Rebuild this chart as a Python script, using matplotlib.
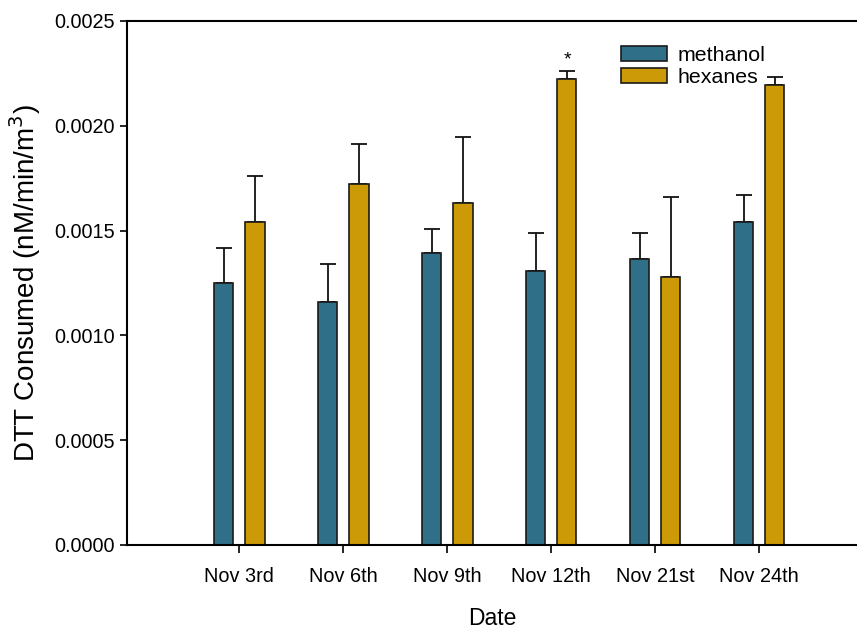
import matplotlib
matplotlib.use('Agg')
import matplotlib.pyplot as plt
import numpy as np

plt.rcParams['font.family'] = ['Liberation Sans', 'DejaVu Sans']

# DTT consumption per sampling date, methanol vs hexanes extracts
dates = ['Nov 3rd', 'Nov 6th', 'Nov 9th', 'Nov 12th', 'Nov 21st', 'Nov 24th']
methanol = [0.001251, 0.001159, 0.001395, 0.001307, 0.001364, 0.001541]
methanol_err = [0.000164, 0.000182, 0.000113, 0.000183, 0.000126, 0.000127]
hexanes = [0.001542, 0.001721, 0.001633, 0.002223, 0.001279, 0.002193]
hexanes_err = [0.000218, 0.000191, 0.000315, 0.000040, 0.000381, 0.000041]
star_idx = 3

c_meth = '#2f6f88'
c_hex = '#cc9a06'

fig = plt.figure(figsize=(8.57, 6.32), dpi=100)
ax = fig.add_axes([127/857, 1-545/632, 1-127/857, (545-21)/632])

x = np.arange(len(dates))
off = 0.151; w = 0.183

ax.bar(x-off, methanol, w, color=c_meth, edgecolor='#1a1a1a', lw=1.2, label='methanol', zorder=2)
ax.bar(x+off, hexanes, w, color=c_hex, edgecolor='#1a1a1a', lw=1.2, label='hexanes', zorder=2)
ax.errorbar(x-off, methanol, yerr=[np.zeros(len(x)), methanol_err], fmt='none',
            ecolor='#111111', elinewidth=1.3, capsize=5.8, capthick=1.3, zorder=1)
ax.errorbar(x+off, hexanes, yerr=[np.zeros(len(x)), hexanes_err], fmt='none',
            ecolor='#111111', elinewidth=1.3, capsize=5.8, capthick=1.3, zorder=1)

# significance marker
ax.annotate('*', (x[star_idx]+off, hexanes[star_idx]+hexanes_err[star_idx]),
            xytext=(0, 1.5), textcoords='offset points', ha='center', va='bottom', fontsize=14)

ax.set_xlim(-1.08, 5.94)
ax.set_ylim(0, 0.0025)
ax.set_xticks(x)
ax.set_xticklabels(dates, fontsize=14.3)
yt = np.arange(0, 0.00251, 0.0005)
ax.set_yticks(yt)
ax.set_yticklabels(['%.4f' % v for v in yt], fontsize=14.3)
ax.tick_params(axis='both', direction='out', width=1.2)
ax.tick_params(axis='x', length=6, pad=10)
ax.tick_params(axis='y', length=5, pad=4)

ax.spines['right'].set_visible(False)
for s in ['left', 'top', 'bottom']:
    ax.spines[s].set_linewidth(1.5)

ax.set_xlabel('Date', fontsize=16.5, labelpad=15)
ax.set_ylabel('DTT Consumed (nM/min/m$^3$)', fontsize=20, labelpad=8)

ax.legend(loc='upper left', bbox_to_anchor=(621/857, 1-46/632), bbox_transform=fig.transFigure,
          frameon=False, fontsize=15.4, handlelength=2.15, handleheight=0.7,
          handletextpad=0.5, labelspacing=0.12, borderpad=0, borderaxespad=0)

fig.savefig('out.png', dpi=100)
